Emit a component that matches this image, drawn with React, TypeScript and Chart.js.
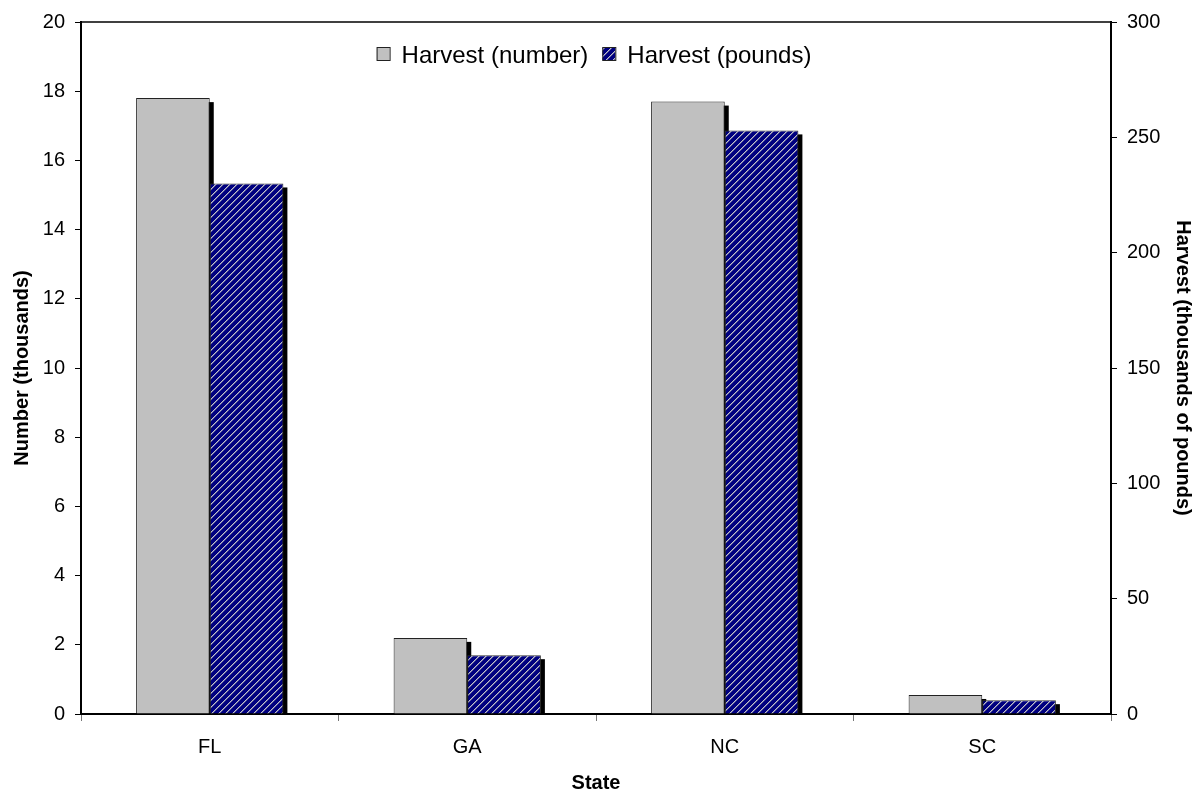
import React, { useEffect, useRef } from "react";
import { Chart, registerables } from "chart.js";

Chart.register(...registerables);

const states = ["FL", "GA", "NC", "SC"];
const harvestNumber = [17.8, 2.2, 17.7, 0.55];
const harvestPounds = [230, 25.5, 253, 6];
const seriesLabels = ["Harvest (number)", "Harvest (pounds)"];
const leftAxisTitle = "Number (thousands)";
const rightAxisTitle = "Harvest (thousands of pounds)";
const xAxisTitle = "State";

const FONT = '"Liberation Sans", Arial, sans-serif';

function makeHatch(): CanvasPattern | string {
  const n = 7;
  const c = document.createElement("canvas");
  c.width = n;
  c.height = n;
  const g = c.getContext("2d");
  if (!g) return "#000080";
  const img = g.createImageData(n, n);
  for (let y = 0; y < n; y++) {
    for (let x = 0; x < n; x++) {
      const k = (x + y) % n;
      const i = (y * n + x) * 4;
      let r = 0, gg = 0, b = 128;
      if (k === 0) { r = 192; gg = 192; b = 200; }
      else if (k === 1) { r = 96; gg = 96; b = 160; }
      img.data[i] = r; img.data[i + 1] = gg; img.data[i + 2] = b;
      img.data[i + 3] = 255;
    }
  }
  g.putImageData(img, 0, 0);
  const p = g.createPattern(c, "repeat");
  return p || "#000080";
}

export default function App() {
  const ref = useRef<HTMLCanvasElement | null>(null);

  useEffect(() => {
    if (!ref.current) return;
    const hatch = makeHatch();

    const shadowPlugin = {
      id: "barShadow",
      beforeDatasetsDraw(chart: any) {
        const ctx = chart.ctx;
        ctx.save();
        ctx.fillStyle = "#000";
        chart.data.datasets.forEach((_: any, i: number) => {
          const meta = chart.getDatasetMeta(i);
          meta.data.forEach((bar: any) => {
            const { x, y, base, width } = bar.getProps(["x", "y", "base", "width"], true);
            ctx.fillRect(x - width / 2 + 4, y + 4, width, base - y - 4);
          });
        });
        ctx.restore();
      },
    };

    const framePlugin = {
      id: "frameLegend",
      afterDraw(chart: any) {
        const ctx = chart.ctx;
        const a = chart.chartArea;
        ctx.save();
        ctx.strokeStyle = "#000";
        ctx.lineWidth = 1.5;
        ctx.beginPath();
        ctx.moveTo(a.left, a.top);
        ctx.lineTo(a.right, a.top);
        ctx.stroke();

        // legend
        ctx.font = `24px ${FONT}`;
        const box = 13;
        const gapBT = 12;
        const gapItems = 14;
        const widths = seriesLabels.map((t) => ctx.measureText(t).width);
        const total = box + gapBT + widths[0] + gapItems + box + gapBT + widths[1];
        let x = (a.left + a.right) / 2 - 2 - total / 2;
        const baseline = 63;
        const fills: any[] = ["#C0C0C0", hatch];
        seriesLabels.forEach((t, i) => {
          ctx.fillStyle = fills[i];
          ctx.fillRect(x, 47.5, box, box);
          ctx.lineWidth = 1;
          ctx.strokeStyle = "#222";
          ctx.strokeRect(x + 0.5, 47.5, box, box);
          ctx.fillStyle = "#000";
          ctx.textBaseline = "alphabetic";
          ctx.textAlign = "left";
          ctx.fillText(t, x + box + gapBT, baseline);
          x += box + gapBT + widths[i] + gapItems;
        });
        ctx.restore();
      },
    };

    const chart = new Chart(ref.current, {
      type: "bar",
      data: {
        labels: states,
        datasets: [
          {
            label: seriesLabels[0],
            data: harvestNumber,
            yAxisID: "y",
            backgroundColor: "#C0C0C0",
            borderColor: "#222",
            borderWidth: 1,
            categoryPercentage: 0.572,
            barPercentage: 1.0,
          },
          {
            label: seriesLabels[1],
            data: harvestPounds,
            yAxisID: "y1",
            backgroundColor: hatch as any,
            borderColor: "#333",
            borderWidth: 1,
            categoryPercentage: 0.572,
            barPercentage: 1.0,
          },
        ],
      },
      options: {
        animation: false,
        responsive: true,
        maintainAspectRatio: false,
        layout: { padding: { top: 21, left: 0, right: 0, bottom: 0 } },
        plugins: {
          legend: { display: false },
          tooltip: { enabled: false },
        },
        scales: {
          x: {
            grid: {
              offset: true,
              drawOnChartArea: false,
              drawTicks: true,
              tickLength: 7,
              color: "#777",
            },
            border: { color: "#000", width: 2 },
            ticks: { color: "#000", font: { family: FONT, size: 20 }, padding: 14 },
            title: {
              display: true,
              text: xAxisTitle,
              color: "#000",
              font: { family: FONT, size: 20, weight: "bold", lineHeight: 1.0 },
              padding: { top: 0, bottom: 0 },
            },
            afterFit: (s: any) => {
              s.height = 79;
            },
          },
          y: {
            position: "left",
            min: 0,
            max: 20,
            ticks: { stepSize: 2, color: "#000", font: { family: FONT, size: 20 }, padding: 10 },
            grid: { drawOnChartArea: false, drawTicks: true, tickLength: 6, color: "#000" },
            border: { color: "#000", width: 2 },
            title: {
              display: true,
              text: leftAxisTitle,
              color: "#000",
              font: { family: FONT, size: 20, weight: "bold", lineHeight: 1.05 },
              padding: { top: 12, bottom: 0 },
            },
            afterFit: (s: any) => {
              s.width = 81;
            },
          },
          y1: {
            position: "right",
            min: 0,
            max: 300,
            ticks: { stepSize: 50, color: "#000", font: { family: FONT, size: 20 }, padding: 10 },
            grid: { drawOnChartArea: false, drawTicks: true, tickLength: 6, color: "#000" },
            border: { color: "#000", width: 2 },
            title: {
              display: true,
              text: rightAxisTitle,
              color: "#000",
              font: { family: FONT, size: 20, weight: "bold", lineHeight: 1.05 },
              padding: { top: 0, bottom: 0 },
            },
            afterFit: (s: any) => {
              s.width = 82;
            },
          },
        },
      },
      plugins: [shadowPlugin, framePlugin],
    });

    return () => chart.destroy();
  }, []);

  return (
    <div style={{ position: "fixed", left: 0, top: 0, width: 1193, height: 793, background: "#fff" }}>
      <canvas ref={ref} />
    </div>
  );
}
